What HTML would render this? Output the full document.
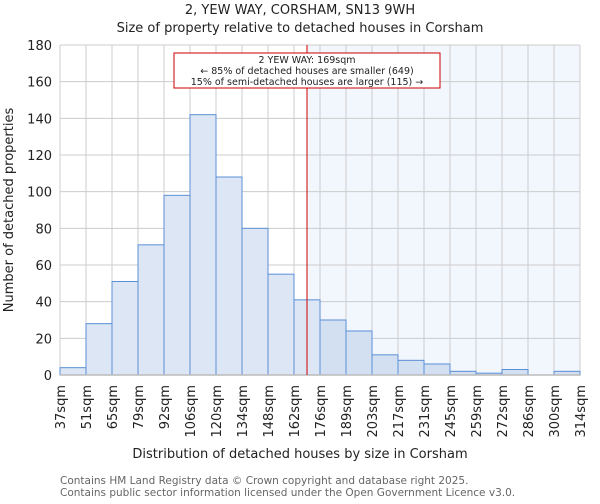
<!DOCTYPE html>
<html><head><meta charset="utf-8"><style>
body{margin:0;background:#fff;font-family:"DejaVu Sans","Liberation Sans",sans-serif;}
svg text{font-family:"DejaVu Sans","Liberation Sans",sans-serif;}
</style></head><body>
<svg id="c" width="600" height="500" xmlns="http://www.w3.org/2000/svg">
<text x="300" y="14" text-anchor="middle" font-size="13" fill="#222">2, YEW WAY, CORSHAM, SN13 9WH</text>
<text x="300" y="32" text-anchor="middle" font-size="13" fill="#222">Size of property relative to detached houses in Corsham</text>
<g id="plot"></g>
<text x="300" y="458" text-anchor="middle" font-size="13" fill="#222">Distribution of detached houses by size in Corsham</text>
<text transform="translate(13,210) rotate(-90)" text-anchor="middle" font-size="13" fill="#222">Number of detached properties</text>
<text x="60" y="484" font-size="10.5" fill="#666">Contains HM Land Registry data © Crown copyright and database right 2025.</text>
<text x="60" y="496" font-size="10.5" fill="#666">Contains public sector information licensed under the Open Government Licence v3.0.</text>
</svg>
<script>
const binLabels=["37sqm","51sqm","65sqm","79sqm","92sqm","106sqm","120sqm","134sqm","148sqm","162sqm","176sqm","189sqm","203sqm","217sqm","231sqm","245sqm","259sqm","272sqm","286sqm","300sqm","314sqm"];
const counts=[4,28,51,71,98,142,108,80,55,41,30,24,11,8,6,2,1,3,0,2];
const yTicks=[0,20,40,60,80,100,120,140,160,180];
const markerBin=9.5;
const L=60,R=580,T=45,B=375,yMax=180;
const n=counts.length,bw=(R-L)/n;
const xs=i=>L+i*bw, ys=v=>B-(v/yMax)*(B-T);
const g=document.getElementById('plot');const NS="http://www.w3.org/2000/svg";
function mk(t,a,p){const e=document.createElementNS(NS,t);for(const k in a)e.setAttribute(k,a[k]);(p||g).appendChild(e);return e;}
const mx=xs(markerBin);
let sh=mk('rect',{x:mx,y:T,width:R-mx,height:B-T,fill:'#f2f6fd'});


yTicks.forEach(v=>{let l=mk('line',{x1:L,x2:R,y1:ys(v),y2:ys(v),stroke:'#ccc'});


let t=mk('text',{x:L-8,y:ys(v)+5,'text-anchor':'end','font-size':13,fill:'#222'});t.textContent=v;

});
binLabels.forEach((s,i)=>{let l=mk('line',{x1:xs(i),x2:xs(i),y1:T,y2:B,stroke:'#ccc'});


let t=mk('text',{transform:`translate(${xs(i)+5},${B+10}) rotate(-90)`,'text-anchor':'end','font-size':13,fill:'#222'});t.textContent=s;

});
counts.forEach((v,i)=>{let r=mk('rect',{x:xs(i),y:ys(v),width:bw,height:B-ys(v),fill:(i>=markerBin?'#d3e0f2':'#dce6f4'),stroke:'#5b8fd6','stroke-width':1});

});
let ax=mk('line',{x1:L,x2:R,y1:B,y2:B,stroke:'#bbb','stroke-width':1.5});


let ml=mk('line',{x1:mx,x2:mx,y1:T,y2:B,stroke:'#c00','stroke-width':1});


let box=mk('rect',{x:174,y:53,width:266,height:35,fill:'#fff',stroke:'#c00'});


["2 YEW WAY: 169sqm","← 85% of detached houses are smaller (649)","15% of semi-detached houses are larger (115) →"].forEach((s,i)=>{let t=mk('text',{x:307,y:63+i*11,'text-anchor':'middle','font-size':9.5,fill:'#222'});t.textContent=s;

});
</script>
</body></html>
